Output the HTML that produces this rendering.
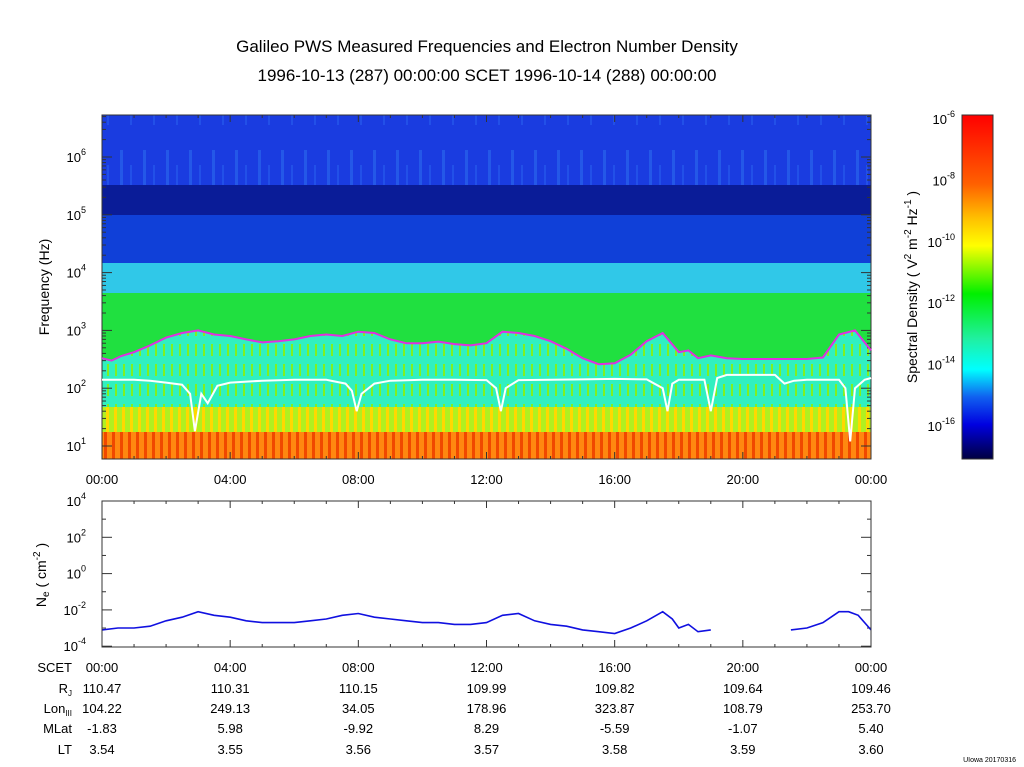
<!DOCTYPE html>
<html><head><meta charset="utf-8"><style>
body{margin:0;background:#fff;}
svg{display:block;font-family:"Liberation Sans",Arial,sans-serif;}
</style></head><body>
<svg width="1024" height="767" viewBox="0 0 1024 767">
<defs>
<linearGradient id="cb" x1="0" y1="0" x2="0" y2="1">
<stop offset="0" stop-color="#ff0000"/><stop offset="0.2" stop-color="#ff6000"/><stop offset="0.3" stop-color="#ffc000"/><stop offset="0.38" stop-color="#ffff00"/><stop offset="0.52" stop-color="#00f000"/><stop offset="0.65" stop-color="#20f0a0"/><stop offset="0.74" stop-color="#00ffff"/><stop offset="0.82" stop-color="#1060f0"/><stop offset="0.9" stop-color="#0000e0"/><stop offset="1" stop-color="#000040"/>
</linearGradient>
<pattern id="stripeR" width="8" height="30" patternUnits="userSpaceOnUse"><rect width="8" height="30" fill="#ff8810"/><rect x="0" width="3" height="30" fill="#f04800"/></pattern>
<pattern id="stripeY" width="8" height="30" patternUnits="userSpaceOnUse"><rect width="8" height="30" fill="#b0f020"/><rect x="2" width="3" height="30" fill="#ffd800"/></pattern>
<pattern id="stripeG" width="8" height="20" patternUnits="userSpaceOnUse"><rect width="8" height="20" fill="#30f0c0"/><rect x="3" y="4" width="2" height="12" fill="#80f020"/></pattern>
<pattern id="streakB" width="23" height="70" patternUnits="userSpaceOnUse"><rect width="23" height="70" fill="#1a3ce0"/><rect x="5" y="10" width="3" height="35" fill="#2458e8"/><rect x="15" y="25" width="2" height="30" fill="#2250e8"/></pattern>
<clipPath id="clipTop"><rect x="102" y="115" width="769" height="344"/></clipPath>
</defs>
<text x="487" y="52" text-anchor="middle" font-size="17">Galileo PWS Measured Frequencies and Electron Number Density</text>
<text x="487" y="81" text-anchor="middle" font-size="17">1996-10-13 (287) 00:00:00 SCET 1996-10-14 (288) 00:00:00</text>

<g clip-path="url(#clipTop)">
<rect x="102" y="115" width="769" height="70" fill="url(#streakB)"/>
<rect x="102" y="185" width="769" height="30" fill="#0a1c98"/>
<rect x="102" y="215" width="769" height="48" fill="#1040d8"/>
<rect x="102" y="263" width="769" height="30" fill="#30c8e8"/>
<rect x="102" y="293" width="769" height="114" fill="#20e040"/>
<g id="cyanArea"></g>
<rect x="102" y="407" width="769" height="25" fill="url(#stripeY)"/>
<rect x="102" y="432" width="769" height="27" fill="url(#stripeR)"/>
</g>
<rect x="102" y="115" width="769" height="344" fill="none" stroke="#333"/>
<g id="topAxes" font-size="13"></g>
<g id="botAxes" font-size="13"></g>
<g id="lines"></g>

<text transform="translate(49,287) rotate(-90)" text-anchor="middle" font-size="14">Frequency (Hz)</text>
<text transform="translate(46,575) rotate(-90)" text-anchor="middle" font-size="14">N<tspan font-size="10" dy="3">e</tspan><tspan dy="-3"> ( cm</tspan><tspan font-size="10" dy="-6">-2</tspan><tspan dy="6"> )</tspan></text>

<rect x="962" y="115" width="31" height="344" fill="url(#cb)" stroke="#333"/>
<g id="cbAxis" font-size="13"></g>
<text transform="translate(917,287) rotate(-90)" text-anchor="middle" font-size="14">Spectral Density ( V<tspan font-size="10" dy="-6">2</tspan><tspan dy="6"> m</tspan><tspan font-size="10" dy="-6">-2</tspan><tspan dy="6"> Hz</tspan><tspan font-size="10" dy="-6">-1</tspan><tspan dy="6"> )</tspan></text>

<rect x="102" y="501" width="769" height="146" fill="none" stroke="#333"/>
<g id="ephem" font-size="13"></g>
<text x="1016" y="762" text-anchor="end" font-size="7">UIowa 20170316</text>
</svg>
<script>
const NS="http://www.w3.org/2000/svg";
const timeLabels=["00:00","04:00","08:00","12:00","16:00","20:00","00:00"];
const freqExp=[1,2,3,4,5,6];
const neExp=[4,2,0,-2,-4];
const cbExp=[-6,-8,-10,-12,-14,-16];
const magentaT=[0,0.3,0.6,1,1.5,2,2.5,3,3.5,4,4.5,5,5.5,6,6.5,7,7.5,8,8.5,9,9.5,10,10.5,11,11.5,12,12.5,13,13.5,14,14.5,15,15.5,16,16.5,17,17.5,18,18.3,18.6,19,19.5,20,20.5,21,21.5,22,22.5,23,23.5,24];
const magentaF=[330,300,360,420,550,750,900,1000,850,800,700,620,650,700,800,850,800,950,900,700,600,600,640,580,550,600,950,900,800,650,480,330,260,270,380,650,900,420,450,330,370,330,320,320,320,320,320,340,850,1000,450];
const whiteT=[0,0.5,1,1.5,2,2.5,2.75,2.9,3.1,3.3,3.6,4,5,6,7,7.6,7.8,7.95,8.1,8.5,9,10,11,12,12.3,12.45,12.6,13,14,15,16,17,17.5,17.65,17.8,18,18.8,19,19.2,19.5,20,21,21.3,21.6,22,23,23.2,23.35,23.5,23.8,24];
const whiteF=[140,140,140,135,125,115,80,18,80,55,110,125,135,140,140,120,90,40,80,120,135,140,140,138,100,40,100,138,140,142,145,142,100,40,120,140,140,40,150,170,170,170,120,135,140,140,100,12,100,140,150];
const neT=[0,0.5,1,1.5,2,2.5,3,3.5,4,4.5,5,5.5,6,6.5,7,7.5,8,8.5,9,9.5,10,10.5,11,11.5,12,12.5,13,13.5,14,14.5,15,15.5,16,16.5,17,17.5,17.8,18,18.3,18.6,19];
const neV=[-3.1,-3.0,-3.0,-2.9,-2.6,-2.4,-2.1,-2.3,-2.4,-2.6,-2.7,-2.7,-2.7,-2.6,-2.5,-2.3,-2.2,-2.4,-2.5,-2.6,-2.7,-2.7,-2.8,-2.8,-2.7,-2.3,-2.2,-2.6,-2.8,-2.9,-3.1,-3.2,-3.3,-3.0,-2.6,-2.1,-2.5,-3.0,-2.8,-3.2,-3.1];
const neT2=[21.5,22,22.5,23,23.3,23.6,24];
const neV2=[-3.1,-3.0,-2.7,-2.1,-2.1,-2.3,-3.1];
const X=h=>102+h*769/24;
const YF=f=>446-(Math.log10(f)-1)*57.8;
const YN=v=>501+(4-v)*18.15;
const YC=e=>118+(-6-e)*30.7;
function el(t,a,p,txt){const e=document.createElementNS(NS,t);for(const k in a)e.setAttribute(k,a[k]);if(txt!==undefined)e.textContent=txt;p.appendChild(e);return e;}
function pow(p,x,y,base,exp,anchor){const t=el('text',{x:x,y:y,'text-anchor':anchor||'end'},p);el('tspan',{},t,base);el('tspan',{'font-size':'9',dy:'-7'},t,String(exp));return t;}
// cyan region beneath the magenta line
const area=el('path',{d:magentaT.map((t,i)=>(i?'L':'M')+X(t).toFixed(1)+','+YF(magentaF[i]).toFixed(1)).join('')+'L'+X(24)+',407L'+X(0)+',407Z',fill:'url(#stripeG)'},document.getElementById('cyanArea'));


const ta=document.getElementById('topAxes'),ba=document.getElementById('botAxes');
for(let h=0;h<=24;h++){const x=X(h);const L=h%4==0?7:3;
 el('line',{x1:x,x2:x,y1:459,y2:459-L,stroke:'#333'},ta);el('line',{x1:x,x2:x,y1:115,y2:115+L,stroke:'#333'},ta);
 el('line',{x1:x,x2:x,y1:647,y2:647-L,stroke:'#333'},ba);el('line',{x1:x,x2:x,y1:501,y2:501+L,stroke:'#333'},ba);}
timeLabels.forEach((s,i)=>{const t=el('text',{x:X(i*4),y:484,'text-anchor':'middle'},ta,s);

});
freqExp.forEach(e=>{const y=YF(Math.pow(10,e));el('line',{x1:102,x2:112,y1:y,y2:y,stroke:'#333'},ta);el('line',{x1:861,x2:871,y1:y,y2:y,stroke:'#333'},ta);
 const t=pow(ta,86,y+5,'10',e);


 for(let m=2;m<10;m++){const yy=YF(m*Math.pow(10,e));if(yy>115&&yy<459){el('line',{x1:102,x2:106,y1:yy,y2:yy,stroke:'#333'},ta);el('line',{x1:867,x2:871,y1:yy,y2:yy,stroke:'#333'},ta);}}});
neExp.forEach(e=>{const y=YN(e);el('line',{x1:102,x2:112,y1:y,y2:y,stroke:'#333'},ba);el('line',{x1:861,x2:871,y1:y,y2:y,stroke:'#333'},ba);
 const t=pow(ba,86,y+5,'10',e);


 if(e>-4){const yy=YN(e-1);el('line',{x1:102,x2:106,y1:yy,y2:yy,stroke:'#333'},ba);el('line',{x1:867,x2:871,y1:yy,y2:yy,stroke:'#333'},ba);}});
const ca=document.getElementById('cbAxis');
cbExp.forEach(e=>{const y=YC(e); const t=pow(ca,955,y+6,'10',e);

});
const ln=document.getElementById('lines');
function path(ts,vs,fy,col,name,w){const d=ts.map((t,i)=>(i?'L':'M')+X(t).toFixed(1)+','+fy(vs[i]).toFixed(1)).join('');
 const p=el('path',{d:d,fill:'none',stroke:col,'stroke-width':w},ln);
 
 }
path(magentaT,magentaF,YF,'#e030e0','magenta-frequency-line','2');
path(whiteT,whiteF,YF,'#ffffff','white-frequency-line','2');
path(neT,neV,YN,'#1010e0','electron-density-line','1.6');
path(neT2,neV2,YN,'#1010e0','electron-density-line-2','1.6');
const rowsL=["SCET","R","Lon","MLat","LT"];
const rj=["110.47","110.31","110.15","109.99","109.82","109.64","109.46"];
const lon=["104.22","249.13","34.05","178.96","323.87","108.79","253.70"];
const mlat=["-1.83","5.98","-9.92","8.29","-5.59","-1.07","5.40"];
const lt=["3.54","3.55","3.56","3.57","3.58","3.59","3.60"];
const eg=document.getElementById('ephem');
const rowY=[672,693,713,733,754];
rowsL.forEach((s,i)=>{const t=el('text',{x:72,y:rowY[i],'text-anchor':'end'},eg,s);
 if(s==='R')el('tspan',{'font-size':'8',dy:'3'},t,'J');if(s==='Lon')el('tspan',{'font-size':'8',dy:'3'},t,'III');

});
[timeLabels,rj,lon,mlat,lt].forEach((arr,r)=>arr.forEach((s,i)=>{const t=el('text',{x:X(i*4),y:rowY[r],'text-anchor':'middle'},eg,s);

}));
</script>
</body></html>
